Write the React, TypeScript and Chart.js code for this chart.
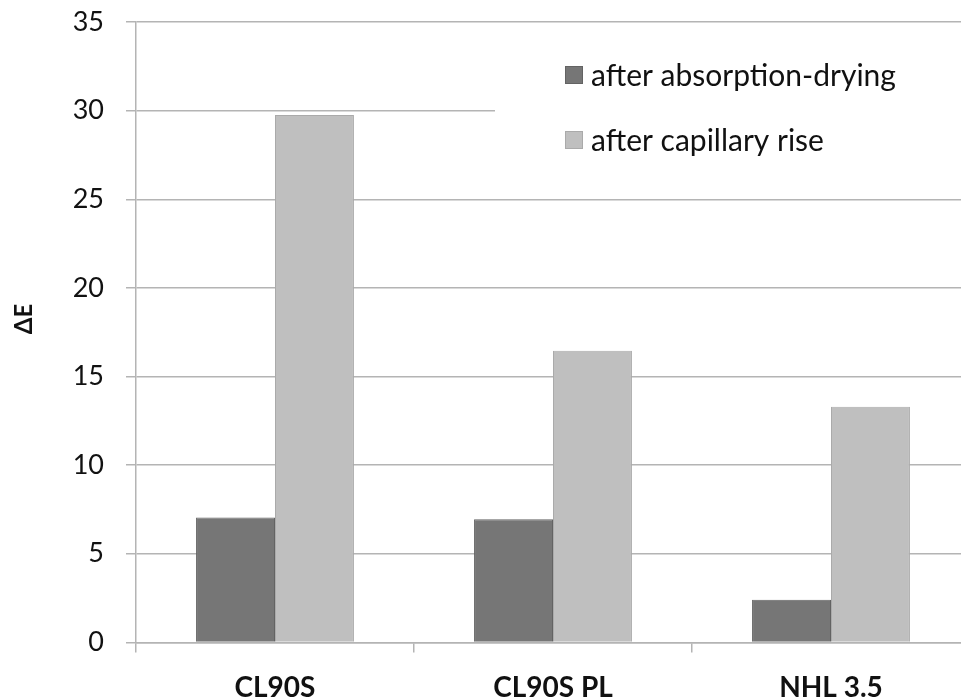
import { useEffect, useRef } from "react";
import { Chart, registerables } from "chart.js";

Chart.register(...registerables);

const categories = ["CL90S", "CL90S PL", "NHL 3.5"];
const seriesNames = ["after absorption-drying", "after capillary rise"];
const afterAbsorptionDrying = [7.05, 6.95, 2.4];
const afterCapillaryRise = [29.75, 16.45, 13.3];
const yMin = 0;
const yMax = 35;
const yStep = 5;
const yTitle = "ΔE";

const FONT = "Lato, 'Open Sans', sans-serif";
const GRID = "#b4b4b4";

const legendPlugin = {
  id: "insideLegend",
  beforeDatasetsDraw(chart: any) {
    const { ctx, chartArea } = chart;
    const boxLeft = chartArea.left + 359;
    const boxTop = chartArea.top + 8;
    ctx.save();
    ctx.fillStyle = "#ffffff";
    ctx.fillRect(boxLeft, boxTop, chart.width - boxLeft, 160);
    ctx.font = `30px ${FONT}`;
    ctx.textBaseline = "middle";
    ctx.textAlign = "left";
    chart.data.datasets.forEach((ds: any, i: number) => {
      const cy = chartArea.top + 53 + i * 65;
      const sx = chartArea.left + 429;
      ctx.fillStyle = ds.backgroundColor;
      ctx.fillRect(sx, cy - 9, 18, 18);
      ctx.strokeStyle = ds.borderColor;
      ctx.lineWidth = 1;
      ctx.strokeRect(sx + 0.5, cy - 8.5, 17, 17);
      ctx.fillStyle = "#111111";
      ctx.fillText(ds.label, sx + 26, cy + 1);
    });
    ctx.restore();
  },
};

const yTitlePlugin = {
  id: "yTitle",
  afterDraw(chart: any) {
    const { ctx } = chart;
    ctx.save();
    ctx.translate(24, 319);
    ctx.rotate(-Math.PI / 2);
    ctx.font = `bold 24px ${FONT}`;
    ctx.fillStyle = "#111111";
    ctx.textAlign = "center";
    ctx.textBaseline = "middle";
    ctx.fillText(yTitle, 0, 0);
    ctx.restore();
  },
};

export default function App() {
  const ref = useRef<HTMLCanvasElement | null>(null);

  useEffect(() => {
    if (!ref.current) return;
    const chart = new Chart(ref.current, {
      type: "bar",
      data: {
        labels: categories,
        datasets: [
          {
            label: seriesNames[0],
            data: afterAbsorptionDrying,
            backgroundColor: "#767676",
            borderColor: "#636363",
            borderWidth: 1,
          },
          {
            label: seriesNames[1],
            data: afterCapillaryRise,
            backgroundColor: "#bfbfbf",
            borderColor: "#aaaaaa",
            borderWidth: 1,
          },
        ],
      },
      options: {
        responsive: false,
        animation: false,
        devicePixelRatio: 1,
        layout: { padding: { top: 22, right: 10, left: 0, bottom: 0 } },
        datasets: {
          bar: { barPercentage: 1, categoryPercentage: 0.568 },
        },
        plugins: {
          legend: { display: false },
          tooltip: { enabled: false },
        },
        scales: {
          x: {
            grid: {
              offset: true,
              drawOnChartArea: false,
              drawTicks: true,
              tickLength: 10,
              color: GRID,
              lineWidth: 1.5,
            },
            border: { display: true, color: GRID, width: 1.5 },
            ticks: {
              font: { family: FONT, size: 28, weight: "bold" },
              color: "#111111",
              padding: 19,
              maxRotation: 0,
            },
          },
          y: {
            min: yMin,
            max: yMax,
            afterFit: (scale: any) => {
              scale.width = 136;
              scale.paddingTop = 0;
              scale.paddingBottom = 0;
            },
            ticks: {
              stepSize: yStep,
              font: { family: FONT, size: 27 },
              color: "#111111",
              padding: 22,
            },
            grid: {
              color: GRID,
              lineWidth: 1.5,
              tickLength: 10,
            },
            border: { display: true, color: GRID, width: 1.5 },
            title: { display: false, text: yTitle },
          },
        },
      },
      plugins: [legendPlugin, yTitlePlugin],
    });
    return () => chart.destroy();
  }, []);

  return (
    <div
      style={{
        position: "fixed",
        left: 0,
        top: 0,
        width: 961,
        height: 698,
        overflow: "hidden",
        background: "#ffffff",
      }}
    >
      <canvas ref={ref} width={980} height={724} style={{ display: "block" }} />
    </div>
  );
}
